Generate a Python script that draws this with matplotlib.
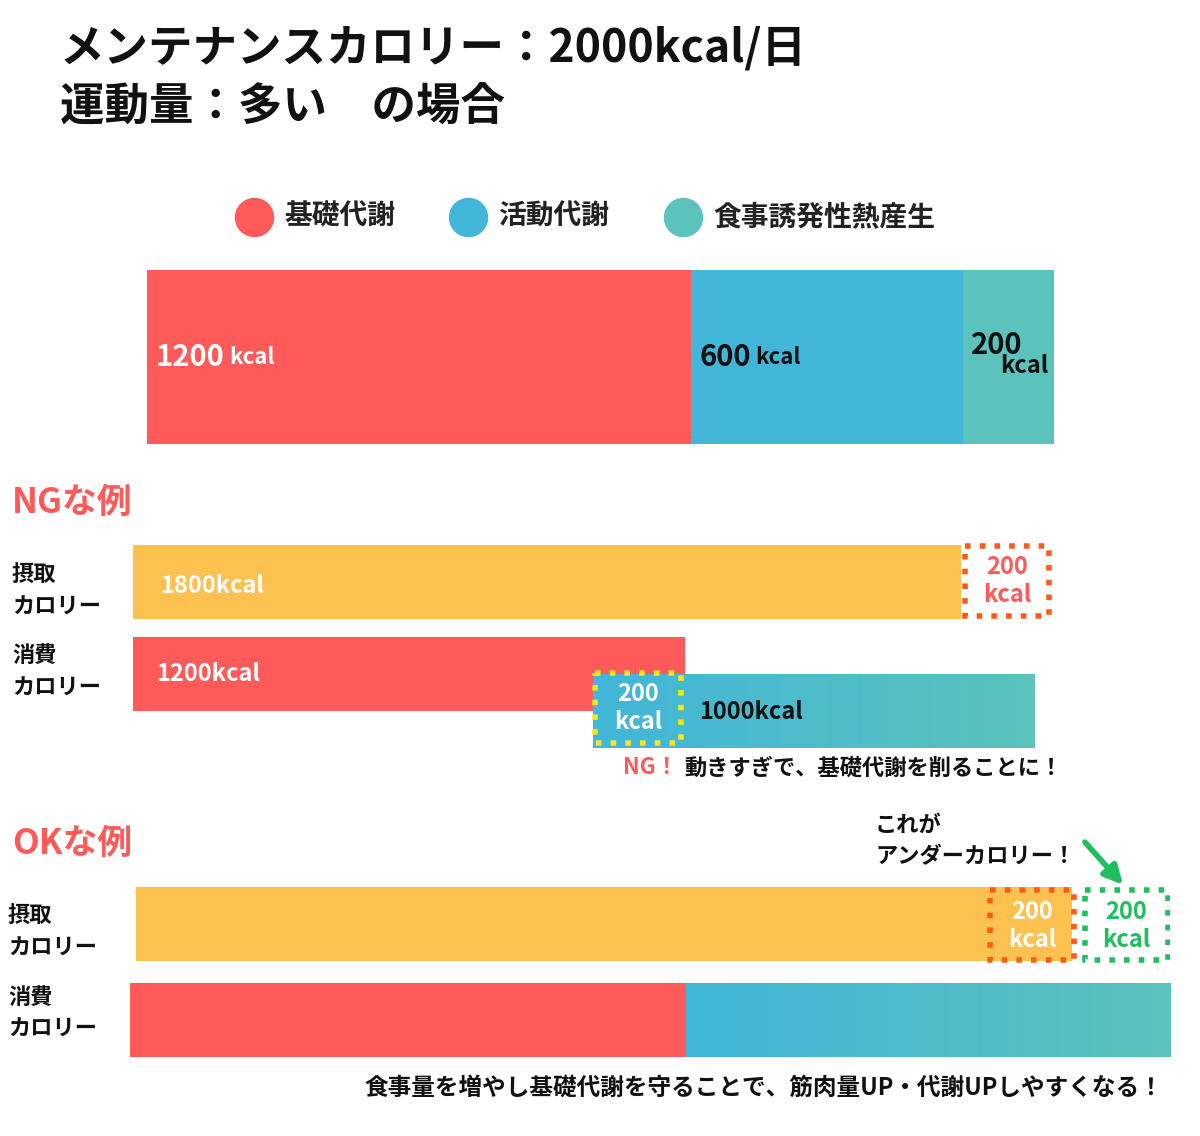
import matplotlib.pyplot as plt
import numpy as np
from matplotlib.patches import Rectangle, FancyArrowPatch
from matplotlib.colors import LinearSegmentedColormap

plt.rcParams['font.family'] = ['Noto Sans CJK JP', 'DejaVu Sans']
plt.rcParams['font.weight'] = 'bold'

RED, BLUE, TEAL, YEL = '#fe5a5a', '#41b6d8', '#5bc2bc', '#fdc150'
grad = LinearSegmentedColormap.from_list('g', [BLUE, TEAL])

# data
legend_labels = ['基礎代謝', '活動代謝', '食事誘発性熱産生']
top_values = [1200, 600, 200]
ng_intake = 1800
ng_deficit = 200
ng_basal = 1200
ng_activity = 1000
ok_intake = 2000
ok_deficit = 200
ok_basal = 1200
ok_activity = 1000

W, H = 1200, 1136
fig = plt.figure(figsize=(W / 100, H / 100), dpi=100)
base = fig.add_axes([0, 0, 1, 1])
base.set_xlim(0, W); base.set_ylim(H, 0); base.axis('off')

def axes_px(x0, y0, x1, y1):
    ax = fig.add_axes([x0 / W, 1 - y1 / H, (x1 - x0) / W, (y1 - y0) / H])
    ax.axis('off')
    return ax

# title
base.text(60, 48, 'メンテナンスカロリー：2000kcal/日', fontsize=32, va='center', color='#111')
base.text(60, 108, '運動量：多い　の場合', fontsize=32, va='center', color='#111')

# legend
for x, c, lab in zip([254, 468, 683], [RED, BLUE, TEAL], legend_labels):
    base.scatter(x, 217, s=750, color=c)
    base.text(x + 30, 217, lab, fontsize=20, va='center', color='#222')

# top bar
ax = axes_px(147, 270, 1054, 444)
ax.set_xlim(0, sum(top_values)); ax.set_ylim(0, 1)
left = 0
for v, c in zip(top_values, [RED, BLUE, TEAL]):
    ax.barh(0.5, v, left=left, height=1, color=c)
    left += v
ax.text(18, 0.5, '1200', fontsize=21, color='white', va='center')
ax.text(182, 0.5, 'kcal', fontsize=16, color='white', va='center')
ax.text(1218, 0.5, '600', fontsize=21, color='#111', va='center')
ax.text(1342, 0.5, 'kcal', fontsize=16, color='#111', va='center')
ax.text(1818, 0.48, '200', fontsize=21, color='#111', va='bottom')
ax.text(1935, 0.52, 'kcal', fontsize=17, color='#111', va='top', ha='center')

# NG section
base.text(12, 502, 'NGな例', fontsize=25, color=RED, va='center')
for y, lab in [(591, '摂取\nカロリー'), (672, '消費\nカロリー')]:
    base.text(12, y, lab, fontsize=16, color='#111', va='center', linespacing=1.5)
ax = axes_px(133, 540, 133 + 2000 * 0.46, 750)
ax.set_xlim(0, 2000); ax.set_ylim(750, 540)
ax.barh(582, ng_intake, height=74, color=YEL)
ax.text(60, 586, f'{ng_intake}kcal', fontsize=17, color='white', va='center')
ax.barh(674, ng_basal, height=74, color=RED)
ax.text(50, 674, f'{ng_basal}kcal', fontsize=17, color='white', va='center')
a0 = ng_basal - ng_deficit
ax.imshow(np.linspace(0, 1, 100)[None, :], cmap=grad, aspect='auto',
          extent=(a0, a0 + ng_activity - 40, 748, 674), zorder=2)
ax.set_xlim(0, 2000)
ax.text(a0 + 230, 712, f'{ng_activity}kcal', fontsize=17, color='#111', va='center', zorder=3)
ax.add_patch(Rectangle((ng_intake + 8, 546), ng_deficit - 16, 70, fill=False,
                       ls=':', lw=4, ec='#ff5a1a', zorder=4))
ax.text(ng_intake + ng_deficit / 2, 581, f'{ng_deficit}\nkcal', fontsize=17, color=RED,
        ha='center', va='center', linespacing=1.2, zorder=4)
ax.add_patch(Rectangle((a0 + 4, 673), ng_deficit - 12, 70, fill=False,
                       ls=':', lw=4, ec='#f8e71c', zorder=4))
ax.text(a0 + ng_deficit / 2 - 2, 708, f'{ng_deficit}\nkcal', fontsize=17, color='white',
        ha='center', va='center', linespacing=1.2, zorder=4)
base.text(623, 768, 'NG！', fontsize=16, color=RED, va='center')
base.text(684, 768, '動きすぎで、基礎代謝を削ることに！', fontsize=16, color='#111', va='center')

# OK section
base.text(12, 843, 'OKな例', fontsize=25, color=RED, va='center')
for y, lab in [(932, '摂取\nカロリー'), (1013, '消費\nカロリー')]:
    base.text(8, y, lab, fontsize=16, color='#111', va='center', linespacing=1.5)
ax = axes_px(130, 880, 1170, 1060)
ax.set_xlim(0, ok_basal + ok_activity); ax.set_ylim(1060, 880)
ax.barh(924, ok_intake - 20, left=13, height=74, color=YEL)
ax.barh(1020, ok_basal - 24, height=74, color=RED)
ax.imshow(np.linspace(0, 1, 100)[None, :], cmap=grad, aspect='auto',
          extent=(ok_basal - 24, ok_basal + ok_activity, 1057, 983), zorder=2)
ax.set_xlim(0, ok_basal + ok_activity)
for x0, col, tc in [(ok_intake - ok_deficit + 20, '#ff5a1a', 'white'),
                    (ok_intake + 20, '#1dbf5f', '#1dbf5f')]:
    ax.add_patch(Rectangle((x0, 890), ok_deficit - 24, 70, fill=False,
                           ls=':', lw=4, ec=col, zorder=4))
    ax.text(x0 + ok_deficit / 2 - 12, 926, f'{ok_deficit}\nkcal', fontsize=17, color=tc,
            ha='center', va='center', linespacing=1.2, zorder=4)
base.text(875, 841, 'これが\nアンダーカロリー！', fontsize=16, color='#111', va='center',
          linespacing=1.5)
base.add_patch(FancyArrowPatch((1083, 840), (1125, 887), arrowstyle='-|>',
                               mutation_scale=28, lw=4, color='#1dbf5f'))
base.text(1163, 1088, '食事量を増やし基礎代謝を守ることで、筋肉量UP・代謝UPしやすくなる！',
          fontsize=17, color='#111', va='center', ha='right')

fig.savefig('out.png', dpi=100, facecolor='white')
